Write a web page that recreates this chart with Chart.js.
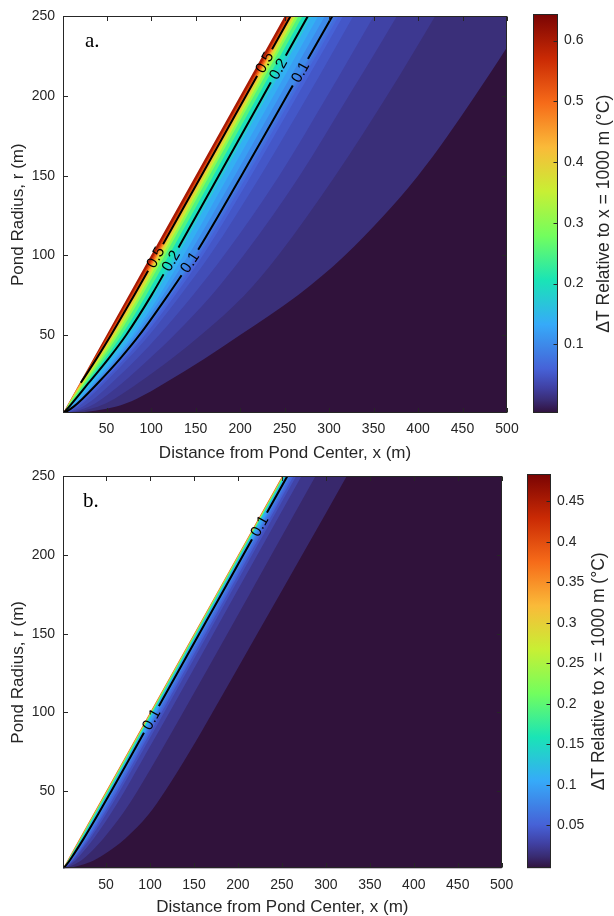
<!DOCTYPE html>
<html>
<head>
<meta charset="utf-8">
<title>Pond temperature contours</title>
<script src="https://cdn.jsdelivr.net/npm/chart.js@4.4.1/dist/chart.umd.min.js"></script>
<style>
html,body{margin:0;padding:0;background:#fff;}
#wrap{position:relative;width:614px;height:916px;overflow:hidden;background:#fff;}
#wrap canvas{position:absolute;}
</style>
</head>
<body>
<div id="wrap">
  <canvas id="plotA" width="614" height="470" style="left:0;top:0;"></canvas>
  <canvas id="barA" width="94" height="460" style="left:520px;top:0;"></canvas>
  <canvas id="plotB" width="614" height="456" style="left:0;top:460px;"></canvas>
  <canvas id="barB" width="100" height="456" style="left:514px;top:460px;"></canvas>
</div>
<script>
// ---------------- data ----------------
const xTickLabels = [50,100,150,200,250,300,350,400,450,500];
const yTickLabels = [50,100,150,200,250];
const cbTicksA = [0.1,0.2,0.3,0.4,0.5,0.6];
const cbTicksB = [0.05,0.1,0.15,0.2,0.25,0.3,0.35,0.4,0.45];
const cbRangeA = [-0.013, 0.643];
const cbRangeB = [-0.003, 0.483];

// pond radius samples (m) at which each contour's x position (m) was read
const radii = [0,5,10,20,35,50,75,100,150,200,250,300];
// pond edge (x = r), inside it there is no data
const pondEdgeX = [0,300];
const pondEdgeR = [0,300];

// panel a: contour levels and x position of each contour at the radii above
const levelsA = [0.01,0.02,0.03,0.04,0.05,0.06,0.07,0.08,0.09,0.1,0.12,0.14,0.17,0.2,0.25,0.3,0.35,0.4,0.45,0.5,0.55,0.6];
const contourXA = [
  [0,60,84,116,160,200,265,318,400,464,522,576],
  [0,40,59,86,123,156,205,243,307,365,419,471],
  [0,30,45,68,98,126,168,204,267,322,376,427],
  [0,23,36,56,84,109,147,182,244,298,350,401],
  [0,18,29,48,74,98,133,166,223,276,327,378],
  [0,15.6,26.4,44.7,70.2,93.2,127,158.3,212.4,264.1,315.5,366],
  [0,14.5,25,42.9,68,90.6,123.7,154.4,207.9,259.3,310.5,361],
  [0,13.8,24.1,41.9,66.7,89,121.6,152,205.1,256.3,307.4,358],
  [0,13.3,23.4,41,65.7,87.8,120,150.2,202.9,254,305,355.5],
  [0,13,23,40.5,65,87,119,149,201.5,252.5,303.5,354],
  [0,11,20.5,37,61,82.5,113.5,142,194,244.5,295,345],
  [0,10,19,35,58.5,79.5,109.5,136.5,187,237.5,287.5,337.5],
  [0,9,17,32,54.5,75,104,130,180.5,230.5,280.5,330.5],
  [0,8,15.5,30,52,72,100.5,126,176,226,276,326],
  [0,7,14,27.5,48,67,94.5,120,170,220,270,320],
  [0,6,12.5,25.5,45,63,90,115.5,165.5,215.5,265.5,315.5],
  [0,5.5,11.5,24,42.5,60,87,112.5,162.5,212.5,262.5,312.5],
  [0,5,10.8,23,41,58,84.5,110,160,210,260,310],
  [0,5,10.3,22,39.5,56.3,82.5,108,158,208,258,308],
  [0,5,10,21,38.5,55,81,106.5,156.5,206.5,256.5,306.5],
  [0,5,10,20.3,37,53.3,79.3,104.7,154.7,204.7,254.7,304.7],
  [0,5,10,20,35.8,51.8,77.6,103,153,203,253,303]
];
const lineLevelsA = [0.5,0.2,0.1];
const lineStartRA = [20,0,0];
const labelLevelsA = [0.5,0.2,0.1,0.5,0.2,0.1];
const labelRadiiA = [221,217,215,98.6,96.5,95.5];

// panel b
const levelsB = [0.01,0.02,0.03,0.04,0.05,0.06,0.07,0.08,0.09,0.1,0.15,0.2,0.3,0.4];
const contourXB = [
  [0,32,48,72,98,117,145,171,222,273,323.5,374],
  [0,19,30,47,68,85.5,112,137.5,188,238,288,338],
  [0,13,21.5,36,54.5,71,96.5,122,172,222,272,322],
  [0,11,18.5,32,49.5,65.5,91,116,166,216,266,316],
  [0,10,17,30,47,62.7,88,113,163,213,263,313],
  [0,9.3,16,28.5,45.2,60.8,86,111,161,211,261,311],
  [0,8.7,15.2,27.3,43.7,59.1,84.3,109.3,159.3,209.3,259.3,309.3],
  [0,8.2,14.5,26.3,42.5,57.9,83,108,158,208,258,308],
  [0,7.8,14,25.5,41.6,56.9,82,107,157,207,257,307],
  [0,7.4,13.4,24.7,40.6,55.9,81,106,156,206,256,306],
  [0,6.4,12,22.8,38.3,53.5,78.5,103.5,153.5,203.5,253.5,303.5],
  [0,5.9,11.3,21.8,37.1,52.3,77.3,102.3,152.3,202.3,252.3,302.3],
  [0,5.5,10.7,21,36.2,51.3,76.3,101.3,151.3,201.3,251.3,301.3],
  [0,5.2,10.3,20.5,35.6,50.6,75.6,100.6,150.6,200.6,250.6,300.6]
];
const lineLevelsB = [0.1];
const lineStartRB = [0];
const labelLevelsB = [0.1,0.1];
const labelRadiiB = [218.5,95.6];

// ---------------- styling ----------------
Chart.defaults.font.family = "'Liberation Sans', Arial, Helvetica, sans-serif";
Chart.defaults.color = '#262626';
const AX = '#262626';
const turboStops = [[0,'#30123b'],[0.0156,'#351e58'],[0.031,'#392c73'],[0.0625,'#4040a2'],[0.094,'#4456c6'],[0.111,'#4662d7'],[0.222,'#36aaf9'],[0.333,'#1ae4b6'],[0.444,'#72fe5e'],[0.556,'#c8ef34'],[0.667,'#faba39'],[0.778,'#f66b19'],[0.889,'#ca2a04'],[1,'#7a0403']];
function hex2rgb(h){return [parseInt(h.slice(1,3),16),parseInt(h.slice(3,5),16),parseInt(h.slice(5,7),16)];}
function turbo(t){
  t = Math.max(0, Math.min(1, t));
  for (let i = 1; i < turboStops.length; i++) {
    if (t <= turboStops[i][0]) {
      const t0 = turboStops[i-1][0], t1 = turboStops[i][0];
      const a = hex2rgb(turboStops[i-1][1]), b = hex2rgb(turboStops[i][1]);
      const f = (t - t0) / (t1 - t0);
      return 'rgb(' + a.map((v,k) => Math.round(v + (b[k]-v)*f)).join(',') + ')';
    }
  }
  return turboStops[turboStops.length-1][1];
}
function bandColor(L, range){ return turbo((L - range[0]) / (range[1] - range[0])); }

function panelPlugin(p){
  function geom(chart, L, r){
    const i = p.levels.indexOf(L), row = p.xs[i];
    let k = 0; while (k < radii.length - 2 && r > radii[k+1]) k++;
    const f = (r - radii[k]) / (radii[k+1] - radii[k]);
    const xv = row[k] + f * (row[k+1] - row[k]);
    const sx = chart.scales.x, sy = chart.scales.y;
    const ax = sx.getPixelForValue(row[k]), ay = sy.getPixelForValue(radii[k]);
    const bx = sx.getPixelForValue(row[k+1]), by = sy.getPixelForValue(radii[k+1]);
    return {x: sx.getPixelForValue(xv), y: sy.getPixelForValue(r), a: Math.atan2(by-ay, bx-ax)};
  }
  const LFONT = "15.5px 'Liberation Sans', Arial, sans-serif";
  return {
    id: 'panel_' + p.tag,
    beforeDatasetsDraw(chart){
      const a = chart.chartArea, c = chart.ctx;
      c.save(); c.fillStyle = turbo(0); c.fillRect(a.left, a.top, a.width, a.height); c.restore();
    },
    beforeDatasetDraw(chart, args){
      const ds = chart.data.datasets[args.index];
      if (!ds.contour) return;
      const c = chart.ctx, a = chart.chartArea;
      c.save();
      c.font = LFONT;
      c.beginPath();
      c.rect(a.left-3, a.top-3, a.width+6, a.height+6);
      p.labelLevels.forEach((L, j) => {
        const g = geom(chart, L, p.labelRadii[j]);
        const hw = c.measureText(String(L)).width/2 + 4.5, hh = 7;
        const ca = Math.cos(g.a), sa = Math.sin(g.a);
        const pts = [[-hw,-hh],[hw,-hh],[hw,hh],[-hw,hh]].map(([u,v]) => [g.x + u*ca - v*sa, g.y + u*sa + v*ca]);
        c.moveTo(pts[0][0], pts[0][1]);
        for (let q = 1; q < 4; q++) c.lineTo(pts[q][0], pts[q][1]);
        c.closePath();
      });
      c.clip('evenodd');
    },
    afterDatasetDraw(chart, args){
      const ds = chart.data.datasets[args.index];
      if (ds.contour) chart.ctx.restore();
    },
    afterDatasetsDraw(chart){
      const c = chart.ctx;
      p.labelLevels.forEach((L, j) => {
        const g = geom(chart, L, p.labelRadii[j]);
        c.save();
        c.translate(g.x, g.y); c.rotate(g.a);
        c.font = LFONT; c.fillStyle = '#000'; c.textAlign = 'center'; c.textBaseline = 'middle';
        c.fillText(String(L), 0, 0.5);
        c.restore();
      });
    },
    afterDraw(chart){
      const c = chart.ctx, a = chart.chartArea, sx = chart.scales.x, sy = chart.scales.y;
      c.save();
      c.strokeStyle = AX; c.lineWidth = 1;
      const L = Math.round(a.left)+0.5, T = Math.round(a.top)+0.5, R = Math.round(a.right)-0.5, B = Math.round(a.bottom)-0.5;
      c.strokeRect(L, T, R-L, B-T);
      c.beginPath();
      xTickLabels.forEach(v => { const x = Math.round(sx.getPixelForValue(v))+0.5; c.moveTo(x, B); c.lineTo(x, B-4.5); c.moveTo(x, T); c.lineTo(x, T+4.5); });
      yTickLabels.forEach(v => { const y = Math.round(sy.getPixelForValue(v))+0.5; c.moveTo(L, y); c.lineTo(L+4.5, y); c.moveTo(R, y); c.lineTo(R-4.5, y); });
      c.stroke();
      c.fillStyle = '#000';
      c.font = "21px 'Liberation Serif', 'Times New Roman', serif";
      c.textAlign = 'left'; c.textBaseline = 'alphabetic';
      c.fillText(p.tag, p.tagX, p.tagY);
      c.restore();
    }
  };
}

function makePlot(id, p){
  const datasets = [];
  p.levels.forEach((L, i) => datasets.push({
    data: radii.map((r, k) => ({x: p.xs[i][k], y: r})),
    fill: 'end', backgroundColor: bandColor(L, p.range),
    borderColor: 'rgba(0,0,0,0)', borderWidth: 0, pointRadius: 0, pointHoverRadius: 0,
    cubicInterpolationMode: 'monotone'
  }));
  datasets.push({
    data: pondEdgeX.map((x, k) => ({x, y: pondEdgeR[k]})),
    fill: 'end', backgroundColor: '#ffffff', borderColor: 'rgba(0,0,0,0)', borderWidth: 0, pointRadius: 0
  });
  p.lineLevels.forEach((L, j) => {
    const i = p.levels.indexOf(L);
    datasets.push({
      data: radii.map((r, k) => ({x: p.xs[i][k], y: r})).filter(pt => pt.y >= p.lineStart[j]),
      fill: false, borderColor: '#000', borderWidth: 2, pointRadius: 0, pointHoverRadius: 0,
      cubicInterpolationMode: 'monotone', contour: true, clip: 0
    });
  });
  datasets.forEach((d, i) => { d.order = datasets.length - i; });
  return new Chart(document.getElementById(id), {
    type: 'line',
    data: {datasets},
    options: {
      responsive: false, animation: false, devicePixelRatio: 1, events: [],
      layout: {padding: {left: 0, top: p.top, right: p.right, bottom: 0}},
      plugins: {legend: {display: false}, tooltip: {enabled: false}},
      scales: {
        x: {
          type: 'linear', min: 1, max: 500,
          grid: {display: false, drawTicks: false}, border: {display: false},
          afterBuildTicks: s => { s.ticks = xTickLabels.map(v => ({value: v})); },
          afterFit: s => { s.height = p.xAxisH; },
          ticks: {font: {size: 14}, color: AX, padding: 8, maxRotation: 0, autoSkip: false, callback: v => String(v)},
          title: {display: true, text: 'Distance from Pond Center, x (m)', color: AX, font: {size: 17, lineHeight: 1}, padding: {top: 0, bottom: p.titlePad}}
        },
        y: {
          type: 'linear', min: 1, max: 250,
          grid: {display: false, drawTicks: false}, border: {display: false},
          afterBuildTicks: s => { s.ticks = yTickLabels.map(v => ({value: v})); },
          afterFit: s => { s.width = 63; },
          ticks: {font: {size: 14}, color: AX, padding: 8, autoSkip: false, callback: v => String(v)},
          title: {display: true, text: 'Pond Radius, r (m)', color: AX, font: {size: 17, lineHeight: 1}, padding: {top: 9.5, bottom: 0}}
        }
      }
    },
    plugins: [panelPlugin(p)]
  });
}

function makeBar(id, p){
  return new Chart(document.getElementById(id), {
    type: 'bar',
    data: {labels: ['c'], datasets: [{
      data: [[p.range[0], p.range[1]]],
      backgroundColor: ctx => {
        const ch = ctx.chart, a = ch.chartArea;
        if (!a) return '#30123b';
        const g = ch.ctx.createLinearGradient(0, a.bottom, 0, a.top);
        turboStops.forEach(s => g.addColorStop(s[0], s[1]));
        return g;
      },
      borderWidth: 0, barPercentage: 1, categoryPercentage: 1
    }]},
    options: {
      responsive: false, animation: false, devicePixelRatio: 1, events: [],
      layout: {padding: {left: 13, top: p.top, right: 0, bottom: p.bottom}},
      plugins: {legend: {display: false}, tooltip: {enabled: false}},
      scales: {
        x: {display: false},
        y: {
          position: 'right', min: p.range[0], max: p.range[1],
          grid: {display: false, drawTicks: false}, border: {display: false},
          afterBuildTicks: s => { s.ticks = p.ticks.map(v => ({value: v})); },
          afterFit: s => { s.width = p.axisW; },
          ticks: {font: {size: 14}, color: AX, padding: 6, autoSkip: false, callback: v => String(v)}
        }
      }
    },
    plugins: [{
      id: 'cb_' + id,
      afterDraw(chart){
        const c = chart.ctx, a = chart.chartArea, sy = chart.scales.y;
        c.save();
        c.strokeStyle = AX; c.lineWidth = 1;
        const L = Math.round(a.left)+0.5, T = Math.round(a.top)+0.5, R = Math.round(a.right)-0.5, B = Math.round(a.bottom)-0.5;
        c.strokeRect(L, T, R-L, B-T);
        c.beginPath();
        p.ticks.forEach(v => { const y = Math.round(sy.getPixelForValue(v))+0.5; c.moveTo(R, y); c.lineTo(R-4, y); });
        c.stroke();
        c.translate(p.labelX, (a.top + a.bottom)/2);
        c.rotate(-Math.PI/2);
        c.fillStyle = AX; c.font = "17.5px 'Liberation Sans', Arial, sans-serif";
        c.textAlign = 'center'; c.textBaseline = 'middle';
        c.fillText('\u0394T Relative to x = 1000 m (\u00B0C)', 0, 0);
        c.restore();
      }
    }]
  });
}

makePlot('plotA', {levels: levelsA, xs: contourXA, range: cbRangeA, lineLevels: lineLevelsA, lineStart: lineStartRA,
  labelLevels: labelLevelsA, labelRadii: labelRadiiA, tag: 'a.', tagX: 85, tagY: 47,
  top: 13, right: 107, xAxisH: 57, titlePad: 8.5});
makePlot('plotB', {levels: levelsB, xs: contourXB, range: cbRangeB, lineLevels: lineLevelsB, lineStart: lineStartRB,
  labelLevels: labelLevelsB, labelRadii: labelRadiiB, tag: 'b.', tagX: 83, tagY: 47,
  top: 13.3, right: 112.3, xAxisH: 47.7, titlePad: 0.5});
makeBar('barA', {range: cbRangeA, ticks: cbTicksA, top: 13, bottom: 47, axisW: 56, labelX: 84});
makeBar('barB', {range: cbRangeB, ticks: cbTicksB, top: 13.3, bottom: 47.7, axisW: 63, labelX: 85});
</script>
</body>
</html>
